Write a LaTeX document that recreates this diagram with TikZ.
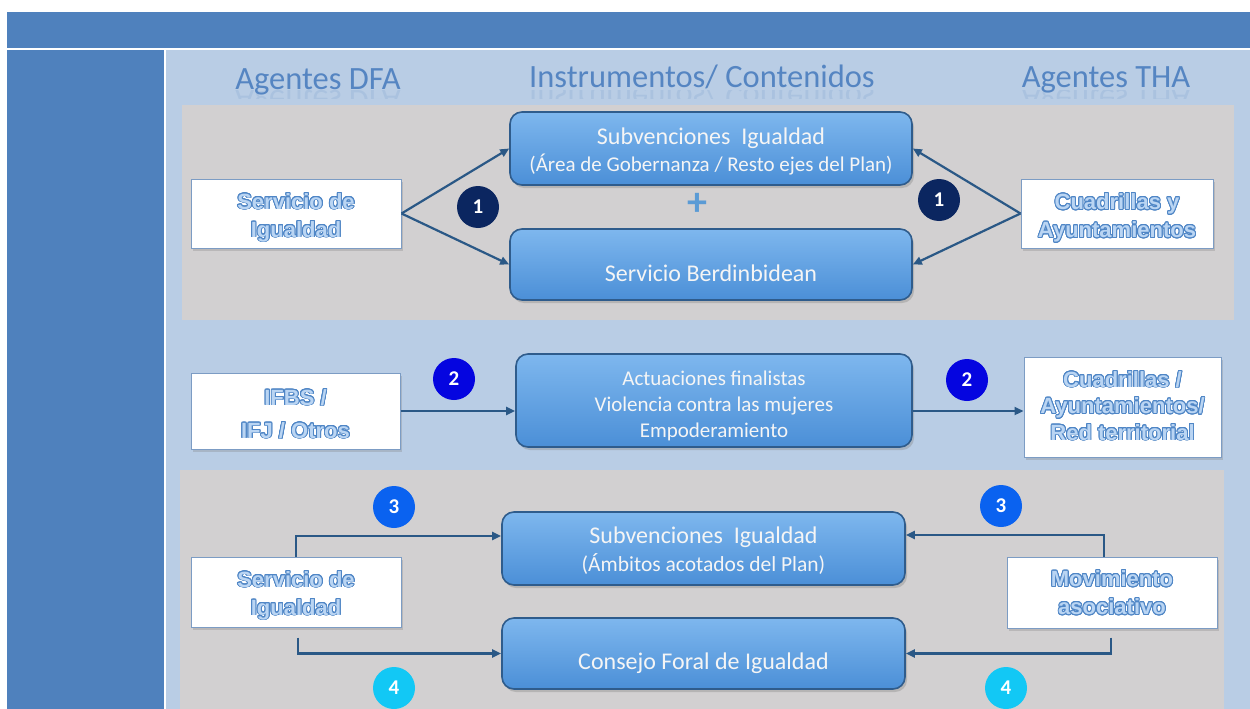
\documentclass[tikz,border=0pt]{standalone}
\usepackage{fontspec}
\setmainfont{Carlito}
\newfontfamily\wafont{Liberation Sans}
\usepackage{contour}
\contourlength{0.9pt}
\contournumber{20}
\usetikzlibrary{shadows,arrows.meta}
\definecolor{topblue}{HTML}{4F81BD}
\definecolor{panelc}{HTML}{B9CDE5}
\definecolor{greyc}{HTML}{D2D0D1}
\definecolor{boxtop}{HTML}{7EB7EE}
\definecolor{boxbot}{HTML}{4B8FD7}
\definecolor{boxline}{HTML}{2F5C8C}
\definecolor{arrowc}{HTML}{2A5886}
\definecolor{hdrc}{HTML}{5585C2}
\definecolor{waline}{HTML}{4F86C6}
\definecolor{wafill}{HTML}{BAD5F3}
\definecolor{wboxline}{HTML}{7C9CC4}
\definecolor{cone}{HTML}{0B2660}
\definecolor{ctwo}{HTML}{0505E0}
\definecolor{cthree}{HTML}{0A62F0}
\definecolor{cfour}{HTML}{12C8F5}
\definecolor{plusc}{HTML}{5B9BD5}
\newcommand\wa[1]{\contour{waline}{#1}}
% text block whose last baseline sits #1 below the node centre
\newcommand\btxt[2]{\raisebox{-#1}[0pt][0pt]{\begin{tabular}[b]{@{}c@{}}#2\end{tabular}}}
\tikzset{
  rbox/.style={draw=boxline, line width=1.6pt, rounded corners=12pt,
    top color=boxtop, bottom color=boxbot, text=white!96!black,
    align=center, inner sep=0pt,
    drop shadow={shadow xshift=2pt, shadow yshift=-3pt, opacity=0.35},
    font=\fontsize{24}{27}\selectfont},
  wbox/.style={draw=wboxline, line width=1pt, fill=white, align=center,
    inner sep=0pt, text=wafill,
    drop shadow={shadow xshift=2pt, shadow yshift=-3pt, opacity=0.3},
    font=\wafont\bfseries\fontsize{22}{28}\selectfont},
  num/.style={circle, minimum size=42pt, inner sep=0pt, text=white,
    font=\bfseries\fontsize{21}{21}\selectfont},
  hdr/.style={text=hdrc, font=\fontsize{32.5}{34}\selectfont, inner sep=0pt, anchor=base},
  refl/.style={hdr, yscale=-1, transform shape, opacity=0.15},
  arr/.style={draw=arrowc, line width=2.2pt, -{Triangle[length=9pt,width=8pt]}},
}
\begin{document}
\begin{tikzpicture}[x=1pt,y=-1pt]
\useasboundingbox (0,0) rectangle (1250,709);
\fill[white] (0,0) rectangle (1250,709);
\fill[topblue] (7,12) rectangle (1250,48);
\fill[topblue] (7,50) rectangle (164,709);
\fill[panelc] (166,50) rectangle (1250,709);
\fill[greyc] (182,105) rectangle (1234,320);
\fill[greyc] (180,470) rectangle (1224,709);

% headers with faint reflection
\node[hdr] (hDFA) at (318,89) {Agentes DFA};
\node[hdr] (hIC) at (702,87) {Instrumentos/ Contenidos};
\node[hdr] (hTHA) at (1106,88) {Agentes THA};
\begin{scope}
  \clip (200,90) rectangle (1220,98);
  \node[refl] (rDFA) at (318,90) {Agentes DFA};
  \node[refl] (rIC) at (702,88) {Instrumentos/ Contenidos};
  \node[refl] (rTHA) at (1106,89) {Agentes THA};
\end{scope}

% panel 1
\node[rbox, minimum width=402pt, minimum height=73pt] (sub1) at (711,148.5)
  {\btxt{22.5pt}{Subvenciones\ \ Igualdad\\{\fontsize{21}{27}\selectfont(Área de Gobernanza / Resto ejes del Plan)}}};
\node[rbox, minimum width=402pt, minimum height=71pt] (berd) at (711,264.5)
  {\btxt{17pt}{Servicio Berdinbidean}};
\node[text=plusc, font=\bfseries\fontsize{40}{40}\selectfont, inner sep=0pt] (plus) at (697,204) {+};
\node[wbox, minimum width=210pt, minimum height=69pt] (serv1) at (296,213.5)
  {\btxt{23.5pt}{\wa{Servicio de}\\\wa{Igualdad}}};
\node[wbox, minimum width=192pt, minimum height=69pt] (cuad1) at (1117,213.5)
  {\btxt{24pt}{\wa{Cuadrillas y}\\\wa{Ayuntamientos}}};
\node[num, fill=cone] (c1L) at (478,207) {1};
\node[num, fill=cone] (c1R) at (939,200) {1};
\draw[arr] (serv1.east) -- (sub1.west);
\draw[arr] (serv1.east) -- (berd.west);
\draw[arr] (cuad1.west) -- (sub1.east);
\draw[arr] (cuad1.west) -- (berd.east);

% panel 2
\node[wbox, minimum width=209pt, minimum height=76pt, font=\wafont\bfseries\fontsize{22}{33}\selectfont] (ifbs) at (295.5,411)
  {\btxt{27pt}{\wa{IFBS /}\\\wa{IFJ / Otros}}};
\node[rbox, minimum width=396pt, minimum height=93pt, font=\fontsize{21}{26}\selectfont] (act) at (714,400.5)
  {\btxt{36.5pt}{Actuaciones finalistas\\Violencia contra las mujeres\\Empoderamiento}};
\node[wbox, minimum width=197pt, minimum height=100pt, font=\wafont\bfseries\fontsize{22}{26.5}\selectfont] (cuad2) at (1122.5,407)
  {\btxt{33pt}{\wa{Cuadrillas /}\\\wa{Ayuntamientos/}\\\wa{Red territorial}}};
\node[num, fill=ctwo] (c2L) at (454,379) {2};
\node[num, fill=ctwo] (c2R) at (967,380) {2};
\draw[arr] (ifbs.east) -- (ifbs.east -| act.west);
\draw[arr] (act.east |- ifbs.east) -- (cuad2.west |- ifbs.east);

% panel 3
\node[rbox, minimum width=403pt, minimum height=73pt, font=\fontsize{24}{28}\selectfont] (sub2) at (703.5,548.5)
  {\btxt{22.5pt}{Subvenciones\ \ Igualdad\\{\fontsize{21.5}{28}\selectfont(Ámbitos acotados del Plan)}}};
\node[rbox, minimum width=403pt, minimum height=71pt] (cons) at (703.5,653.5)
  {\btxt{15.5pt}{Consejo Foral de Igualdad}};
\node[wbox, minimum width=210pt, minimum height=70pt] (serv3) at (296,592)
  {\btxt{23pt}{\wa{Servicio de}\\\wa{Igualdad}}};
\node[wbox, minimum width=210pt, minimum height=71pt] (mov) at (1112,592.5)
  {\btxt{22pt}{\wa{Movimiento}\\\wa{asociativo}}};
\node[num, fill=cthree] (c3L) at (394,507) {3};
\node[num, fill=cthree] (c3R) at (1001,506) {3};
\node[num, fill=cfour] (c4L) at (394,688) {4};
\node[num, fill=cfour] (c4R) at (1006,688) {4};
\draw[arr] (serv3.north) |- ([yshift=12.5pt]sub2.west);
\draw[arr] ([xshift=2pt,yshift=-10pt]serv3.south) |- (cons.west);
\draw[arr] ([xshift=-8pt]mov.north) |- ([yshift=13.5pt]sub2.east);
\draw[arr] ([xshift=-1pt,yshift=-9pt]mov.south) |- (cons.east);
\end{tikzpicture}
\end{document}
